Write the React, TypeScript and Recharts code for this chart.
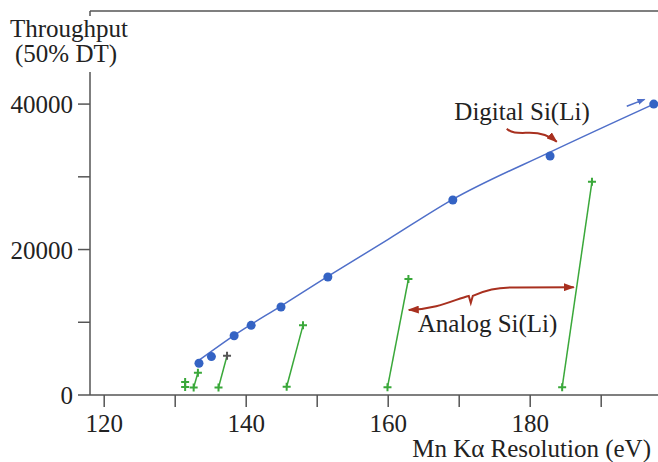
import { ComposedChart, XAxis, YAxis, Line, Scatter, ReferenceLine } from "recharts";

// Digital Si(Li): measured points
const digitalRes = [133.35, 135.1, 138.3, 140.7, 144.9, 151.5, 169.1, 182.8, 197.4];
const digitalRate = [4360, 5280, 8150, 9580, 12100, 16230, 26810, 32860, 40000];

// Digital Si(Li): fitted curve
const fitRes = [133.4, 138.3, 145, 151.5, 160, 169.1, 182.8, 197.4];
const fitRate = [4810, 8200, 12300, 16300, 21400, 26900, 33400, 40000];

// Analog Si(Li): each trace runs from a low-rate point to a high-rate point
const analogLowRes = [131.4, 132.6, 136.1, 145.7, 159.9, 184.5];
const analogLowRate = [1100, 1030, 1030, 1140, 1060, 1060];
const analogHighRes = [131.4, 133.2, 137.3, 148.0, 162.85, 188.7];
const analogHighRate = [1790, 3070, 5400, 9580, 15950, 29330];
const analogHighColor = ["#3aa83a", "#3aa83a", "#555", "#3aa83a", "#3aa83a", "#3aa83a"];

const xTicks = [120, 130, 140, 150, 160, 170, 180, 190];
const xLabeled = [120, 140, 160, 180];
const yTicks = [0, 10000, 20000, 30000, 40000];
const yLabeled = [0, 20000, 40000];

const X_MIN = 118;
const X_MAX = 198;
const Y_MAX = 52800;

const W = 658;
const H = 462;
const LEFT = 90;
const TOP = 11;
const BOTTOM = 395;

const FONT = '"Liberation Serif", "Times New Roman", serif';
const AXIS = "#555";
const GREEN = "#3aa83a";
const BLUE = "#4f6fc9";
const DOT = "#3463c4";
const RED = "#a8301f";

const sx = (e: number) => LEFT + ((e - X_MIN) / (X_MAX - X_MIN)) * (W - LEFT);
const sy = (v: number) => BOTTOM - (v / Y_MAX) * (BOTTOM - TOP);

const digitalData = digitalRes.map((x, i) => ({ x, y: digitalRate[i] }));
const fitData = fitRes.map((x, i) => ({ x, y: fitRate[i] }));
const analogData = analogLowRes.map((x, i) => [
  { x, y: analogLowRate[i], c: GREEN },
  { x: analogHighRes[i], y: analogHighRate[i], c: analogHighColor[i] },
]);

const Plus = (props: any) => {
  const { cx, cy, payload } = props;
  if (cx == null || cy == null) return null;
  return (
    <path
      d={`M${cx - 4},${cy} L${cx + 4},${cy} M${cx},${cy - 4} L${cx},${cy + 4}`}
      stroke={payload?.c || GREEN}
      strokeWidth={2}
    />
  );
};

const Dot = (props: any) => {
  const { cx, cy } = props;
  if (cx == null || cy == null) return null;
  return <circle cx={cx} cy={cy} r={4.5} fill={DOT} />;
};

const XTick = (props: any) => {
  const { x, y, payload } = props;
  if (!xLabeled.includes(payload.value)) return null;
  return (
    <text x={x} y={y} dy={23} textAnchor="middle" fontSize={25} fontFamily={FONT} fill="#222">
      {payload.value}
    </text>
  );
};

const YTick = (props: any) => {
  const { x, y, payload } = props;
  if (!yLabeled.includes(payload.value)) return null;
  return (
    <text x={x} y={y} dy={9} textAnchor="end" fontSize={25} fontFamily={FONT} fill="#222">
      {payload.value}
    </text>
  );
};

function Overlay() {
  // annotation anchors in data space
  const dx = sx(178.85);
  const dy = sy(37800);
  const a1x = sx(176.7);
  const a1y = sy(36600);
  const ax = sx(174.0);
  const ay = sy(8660);
  const bx = sx(162.9);
  const by = sy(11700);
  const ex1 = sx(193.6);
  const ey1 = sy(39700);
  const ex2 = sx(196.1);
  const ey2 = sy(40650);

  return (
    <svg
      width={W}
      height={H}
      style={{ position: "absolute", left: 0, top: 0, pointerEvents: "none" }}
    >
      <defs>
        <marker id="redHead" markerWidth={11} markerHeight={8} refX={10} refY={4} orient="auto-start-reverse" markerUnits="userSpaceOnUse">
          <path d="M0,0 L11,4 L0,8 z" fill={RED} />
        </marker>
        <marker id="blueHead" markerWidth={8} markerHeight={6} refX={7} refY={3} orient="auto" markerUnits="userSpaceOnUse">
          <path d="M0,0 L8,3 L0,6 z" fill={BLUE} />
        </marker>
      </defs>

      {/* y title, breaking the axis line */}
      <rect x={6} y={16} width={124} height={56} fill="#fff" />
      <text x={10} y={37} fontSize={25} fontFamily={FONT} fill="#222">
        Throughput
      </text>
      <text x={15} y={62} fontSize={25} fontFamily={FONT} fill="#222">
        (50% DT)
      </text>

      <text x={651} y={457} textAnchor="end" fontSize={25} fontFamily={FONT} fill="#222">
        Mn Kα Resolution (eV)
      </text>

      <text x={dx} y={dy} textAnchor="middle" fontSize={25} fontFamily={FONT} fill="#222">
        Digital Si(Li)
      </text>
      <path
        d={`M${a1x},${a1y} c5,5 13,4 23,4 c12,0 20,3 27,9`}
        stroke={RED}
        strokeWidth={2}
        fill="none"
        markerEnd="url(#redHead)"
      />

      <text x={ax} y={ay} textAnchor="middle" fontSize={25} fontFamily={FONT} fill="#222">
        Analog Si(Li)
      </text>
      <path
        d={`M${bx},${by} c30,-1 47,-11 60,-14 l2,7 l2,-7 c13,-6 23,-8.5 43,-8.5 l58,-0.2`}
        stroke={RED}
        strokeWidth={2}
        fill="none"
        markerStart="url(#redHead)"
        markerEnd="url(#redHead)"
      />

      <line x1={ex1} y1={ey1} x2={ex2} y2={ey2} stroke={BLUE} strokeWidth={1.5} markerEnd="url(#blueHead)" />
    </svg>
  );
}

export default function App() {
  return (
    <div style={{ position: "absolute", left: 0, top: 0, width: W, height: H, background: "#fff" }}>
      <ComposedChart width={W} height={H} margin={{ top: TOP, right: 0, bottom: 0, left: 0 }}>
        <XAxis
          type="number"
          dataKey="x"
          domain={[X_MIN, X_MAX]}
          ticks={xTicks}
          allowDataOverflow
          height={H - BOTTOM}
          tickSize={12}
          tickMargin={2}
          stroke={AXIS}
          strokeWidth={1.5}
          tick={<XTick />}
        />
        <YAxis
          type="number"
          domain={[0, Y_MAX]}
          ticks={yTicks}
          allowDataOverflow
          width={LEFT}
          tickSize={12}
          tickMargin={5}
          stroke={AXIS}
          strokeWidth={1.5}
          tick={<YTick />}
        />
        <ReferenceLine y={Y_MAX} stroke={AXIS} strokeWidth={1.5} />
        <Line
          data={fitData}
          dataKey="y"
          type="monotone"
          stroke={BLUE}
          strokeWidth={1.5}
          dot={false}
          activeDot={false}
          isAnimationActive={false}
        />
        <Scatter data={digitalData} dataKey="y" shape={<Dot />} isAnimationActive={false} />
        {analogData.map((seg, i) => (
          <Scatter
            key={i}
            data={seg}
            dataKey="y"
            line={{ stroke: GREEN, strokeWidth: 1.5 }}
            shape={<Plus />}
            isAnimationActive={false}
          />
        ))}
      </ComposedChart>
      <Overlay />
    </div>
  );
}
